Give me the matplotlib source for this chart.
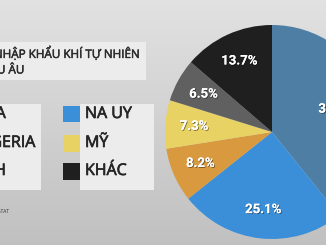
import matplotlib.pyplot as plt
import matplotlib.patheffects as pe
from matplotlib.patches import Rectangle
import numpy as np

# data
countries = ["NGA", "NA UY", "ALGERIA", "MỸ", "ANH", "KHÁC"]
shares = [39.2, 25.1, 8.2, 7.3, 6.5, 13.7]
colors = ["#4e7ea4", "#3a8fd8", "#d99a3f", "#e8d263", "#606060", "#1f1f1f"]

legend_left = ["NGA", "ALGERIA", "ANH"]
legend_left_colors = ["#4e7ea4", "#d99a3f", "#606060"]
legend_right = ["NA UY", "MỸ", "KHÁC"]
legend_right_colors = ["#3a8fd8", "#e8d263", "#1f1f1f"]

title_lines = ["NHẬP KHẨU KHÍ TỰ NHIÊN", "CHÂU ÂU"]
source = "NGUỒN: EUROSTAT"

W, H = 326, 245
plt.rcParams['font.family'] = ['Open Sans', 'DejaVu Sans']

fig = plt.figure(figsize=(W / 100, H / 100), dpi=100)


def fx(px):
    return px / W


def fy(py):
    return 1 - py / H


def heavy(c, lw=0.5):
    # fake a semibold weight
    return [pe.withStroke(linewidth=lw, foreground=c)]


# background gradient
bg = fig.add_axes([0, 0, 1, 1])
bg.set_axis_off()
grad = np.linspace(0, 1, 200)[:, None] * np.ones((1, 10))
shade = 0.885 - 0.13 * grad
bg.imshow(np.dstack([shade, shade, shade]), aspect='auto', extent=[0, 1, 0, 1], origin='upper')
bg.set_xlim(0, 1)
bg.set_ylim(0, 1)

# title panel
fig.add_artist(Rectangle((fx(-5), fy(80)), fx(151), 38 / H, transform=fig.transFigure,
                         facecolor="#ececec", edgecolor="none"))
for txt, xr, y in zip(title_lines, [139, 24], [53, 70]):
    fig.text(fx(xr), fy(y), txt, ha='right', va='center', fontsize=8.4,
             color="#2b2b2b", path_effects=heavy("#2b2b2b", 0.35))

# legend panels
rows_y = [114, 143, 171]
for col_x, labels, cols in [(-33, legend_left, legend_left_colors),
                            (80, legend_right, legend_right_colors)]:
    fig.add_artist(Rectangle((fx(col_x), fy(190)), fx(74), 86 / H, transform=fig.transFigure,
                             facecolor="#ececec", edgecolor="none"))
    for lab, c, y in zip(labels, cols, rows_y):
        fig.add_artist(Rectangle((fx(col_x - 17), fy(y + 8.5)), fx(17), 17 / H,
                                 transform=fig.transFigure, facecolor=c, edgecolor="none"))
        fig.text(fx(col_x + 5), fy(y), lab, ha='left', va='center', fontsize=11.5,
                 color="#262626", path_effects=heavy("#262626", 0.5))

fig.text(fx(9), fy(211), source, ha='right', va='center', fontsize=3.5, color="#333333")

# pie
cx, cy, R = 272, 132, 107
ax = fig.add_axes([fx(cx - R), fy(cy + R), fx(2 * R), 2 * R / H])
wedges, texts, autotexts = ax.pie(shares, colors=colors, startangle=90, counterclock=False,
                                  autopct='%.1f%%', pctdistance=0.73,
                                  wedgeprops=dict(linewidth=0))
ax.set_xlim(-1, 1)
ax.set_ylim(-1, 1)
ax.set_aspect('auto')
for w in wedges:
    w.set_clip_on(False)
for t in autotexts:
    t.set_color("white")
    t.set_fontsize(9.5)
    t.set_fontweight('bold')
    t.set_family(['Roboto', 'DejaVu Sans'])
    t.set_clip_on(False)
    t.set_path_effects([pe.withSimplePatchShadow(offset=(0.6, -0.6), shadow_rgbFace='black', alpha=0.5),
                        pe.Normal()])
# Nga label sits closer to the centre
ang = np.deg2rad(90 - shares[0] / 100 * 360 / 2)
autotexts[0].set_position((0.64 * np.cos(ang), 0.64 * np.sin(ang)))

fig.savefig("out.png", dpi=100)
